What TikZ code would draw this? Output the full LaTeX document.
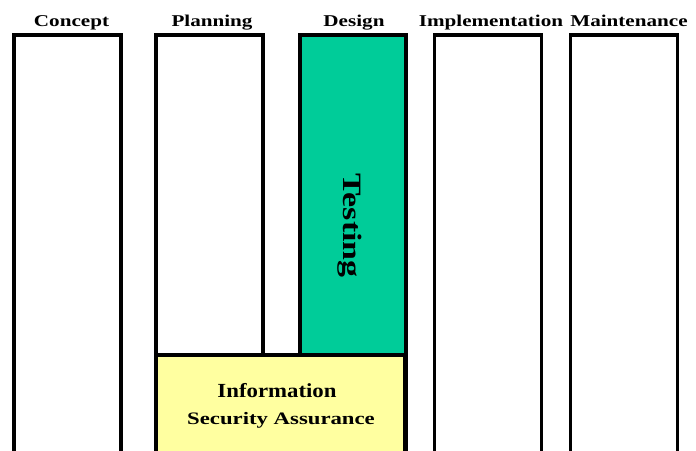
\documentclass[tikz,border=0pt]{standalone}
\usepackage{fontspec}
\setmainfont{Liberation Serif}
\usepackage{graphicx}
\usetikzlibrary{positioning}

\definecolor{testgreen}{RGB}{0,204,153}
\definecolor{assureyellow}{RGB}{255,255,160}

\tikzset{
  phasebox/.style={draw, line width=3.8pt, fill=white, minimum width=107pt,
    minimum height=440pt, anchor=north, inner sep=0pt},
  phasetitle/.style={font=\bfseries\fontsize{16.5}{16.5}\selectfont, anchor=base, inner sep=0pt},
  bandtext/.style={anchor=base, inner sep=0pt},
}

\begin{document}
\begin{tikzpicture}[x=1pt,y=-1pt]

% Frame of the picture
\useasboundingbox (0,0) rectangle (696,450);
\clip (0,0) rectangle (696,450);

% Life-cycle phases
\foreach \name/\x/\tx/\label in {concept/67.5/71.5/Concept, planning/209.5/212/Planning,
    design/353/354/Design, implementation/488/491/Implementation, maintenance/624/629/Maintenance} {
  \node[phasebox] (\name) at (\x,33) {};
  \node[phasetitle] (\name-title) at (\tx,26) {\scalebox{1.28}[1]{\label}};
}

% Testing band
\node[phasebox, fill=testgreen, minimum width=106pt, minimum height=320pt] (testing) at (353,33) {};
\node[rotate=-90, font=\bfseries\fontsize{26.5}{26.5}\selectfont] (testing-label) at (350,225.5)
  {\scalebox{1.28}[1]{Testing}};

% Assurance band
\node[phasebox, fill=assureyellow, minimum width=249pt, minimum height=120pt] (assurance) at (280.5,353) {};
\node[bandtext, font=\bfseries\fontsize{20}{20}\selectfont] (assurance-top) at (277,397)
  {\scalebox{1.14}[1]{Information}};
\node[bandtext, font=\bfseries\fontsize{17.5}{17.5}\selectfont] (assurance-bottom) at (281,424)
  {\scalebox{1.3}[1]{Security Assurance}};

\end{tikzpicture}
\end{document}
